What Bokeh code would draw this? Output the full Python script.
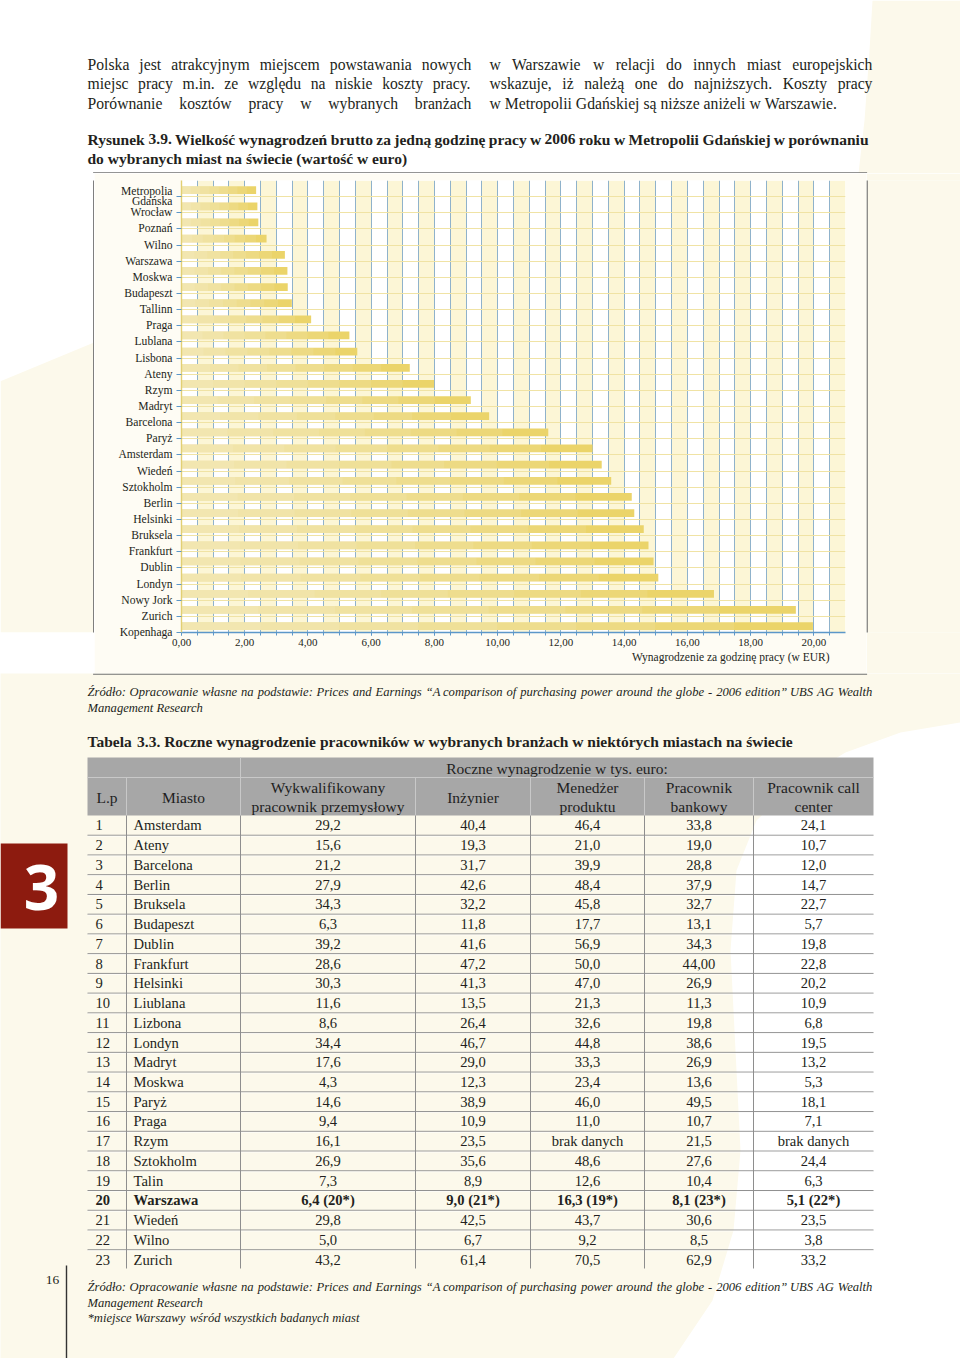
import numpy as np
from bokeh.plotting import figure
from bokeh.layouts import column, row
from bokeh.models import Range1d, FixedTicker, Title
from bokeh.core.properties import value
from bokeh.embed import file_html
from bokeh.resources import INLINE

# ------------------------------------------------------------------ data
cities = ["Metropolia Gdańska", "Wrocław", "Poznań", "Wilno", "Warszawa", "Moskwa",
          "Budapeszt", "Tallinn", "Praga", "Lublana", "Lisbona", "Ateny", "Rzym",
          "Madryt", "Barcelona", "Paryż", "Amsterdam", "Wiedeń", "Sztokholm", "Berlin",
          "Helsinki", "Bruksela", "Frankfurt", "Dublin", "Londyn", "Nowy Jork", "Zurich",
          "Kopenhaga"]
wages = [2.36, 2.40, 2.43, 2.69, 3.27, 3.35, 3.36, 3.49, 4.10, 5.31, 5.56, 7.22, 7.99,
         9.15, 9.73, 11.60, 13.00, 13.29, 13.59, 14.24, 14.32, 14.62, 14.77, 14.93,
         15.08, 16.84, 19.43, 19.97]
x_ticks = [0, 2, 4, 6, 8, 10, 12, 14, 16, 18, 20]
x_tick_labels = ["0,00", "2,00", "4,00", "6,00", "8,00", "10,00", "12,00", "14,00",
                 "16,00", "18,00", "20,00"]
x_title = "Wynagrodzenie za godzinę pracy (w EUR)"

table_lp = ["1", "2", "3", "4", "5", "6", "7", "8", "9", "10", "11", "12", "13", "14",
            "15", "16", "17", "18", "19", "20", "21", "22", "23"]
table_city = ["Amsterdam", "Ateny", "Barcelona", "Berlin", "Bruksela", "Budapeszt",
              "Dublin", "Frankfurt", "Helsinki", "Liublana", "Lizbona", "Londyn",
              "Madryt", "Moskwa", "Paryż", "Praga", "Rzym", "Sztokholm", "Talin",
              "Warszawa", "Wiedeń", "Wilno", "Zurich"]
col_skilled = ["29,2", "15,6", "21,2", "27,9", "34,3", "6,3", "39,2", "28,6", "30,3",
               "11,6", "8,6", "34,4", "17,6", "4,3", "14,6", "9,4", "16,1", "26,9",
               "7,3", "6,4 (20*)", "29,8", "5,0", "43,2"]
col_engineer = ["40,4", "19,3", "31,7", "42,6", "32,2", "11,8", "41,6", "47,2", "41,3",
                "13,5", "26,4", "46,7", "29,0", "12,3", "38,9", "10,9", "23,5", "35,6",
                "8,9", "9,0 (21*)", "42,5", "6,7", "61,4"]
col_manager = ["46,4", "21,0", "39,9", "48,4", "45,8", "17,7", "56,9", "50,0", "47,0",
               "21,3", "32,6", "44,8", "33,3", "23,4", "46,0", "11,0", "brak danych",
               "48,6", "12,6", "16,3 (19*)", "43,7", "9,2", "70,5"]
col_bank = ["33,8", "19,0", "28,8", "37,9", "32,7", "13,1", "34,3", "44,00", "26,9",
            "11,3", "19,8", "38,6", "26,9", "13,6", "49,5", "10,7", "21,5", "27,6",
            "10,4", "8,1 (23*)", "30,6", "8,5", "62,9"]
col_call = ["24,1", "10,7", "12,0", "14,7", "22,7", "5,7", "19,8", "22,8", "20,2",
            "10,9", "6,8", "19,5", "13,2", "5,3", "18,1", "7,1", "brak danych", "24,4",
            "6,3", "5,1 (22*)", "23,5", "3,8", "33,2"]
bold_row = "20"

header_group = "Roczne wynagrodzenie w tys. euro:"
header_cols = [("L.p",), ("Miasto",), ("Wykwalifikowany", "pracownik przemysłowy"),
               ("Inżynier",), ("Menedżer", "produktu"), ("Pracownik", "bankowy"),
               ("Pracownik call", "center")]

para_left = ["Polska jest atrakcyjnym miejscem powstawania nowych",
             "miejsc pracy m.in. ze względu na niskie koszty pracy.",
             "Porównanie kosztów pracy w wybranych branżach"]
para_right = ["w Warszawie w relacji do innych miast europejskich",
              "wskazuje, iż należą one do najniższych. Koszty pracy",
              "w Metropolii Gdańskiej są niższe aniżeli w Warszawie."]
fig_caption = ["Rysunek 3.9. Wielkość wynagrodzeń brutto za jedną godzinę pracy w 2006 roku w Metropolii Gdańskiej w porównaniu",
               "do wybranych miast na świecie (wartość w euro)"]
source_lines = ["Źródło: Opracowanie własne na podstawie: Prices and Earnings “A comparison of purchasing power around the globe - 2006 edition” UBS AG Wealth",
                "Management Research"]
table_caption = "Tabela 3.3. Roczne wynagrodzenie pracowników w wybranych branżach w niektórych miastach na świecie"
footnote = "*miejsce Warszawy wśród wszystkich badanych miast"
page_number = "16"
chapter = "3"

# ------------------------------------------------------------------ style
SERIF = "Liberation Serif"
CREAM = "#FCF9EB"
TXT = "#231F20"
BOX = "#727272"

# Times-compatible advance widths (1/1000 em) used to justify lines
_REG = dict(zip("ABCDEFGHIJKLMNOPQRSTUVWXYZ",
                [722, 667, 667, 722, 611, 556, 722, 722, 333, 389, 722, 611, 889, 722, 722, 556, 722, 667, 556, 611, 722, 722, 944, 722, 722, 611]))
_REG.update(zip("abcdefghijklmnopqrstuvwxyz",
                [444, 500, 444, 500, 444, 333, 500, 500, 278, 278, 500, 278, 778, 500, 500, 500, 500, 333, 389, 278, 500, 500, 722, 500, 500, 444]))
_BOLD = dict(zip("ABCDEFGHIJKLMNOPQRSTUVWXYZ",
                 [722, 667, 722, 722, 667, 611, 778, 778, 389, 500, 778, 667, 944, 722, 778, 611, 778, 722, 556, 667, 722, 722, 1000, 722, 722, 667]))
_BOLD.update(zip("abcdefghijklmnopqrstuvwxyz",
                 [500, 556, 444, 556, 444, 333, 500, 556, 278, 333, 556, 278, 833, 556, 500, 556, 556, 444, 389, 333, 556, 500, 722, 500, 500, 444]))
_ITAL = dict(zip("ABCDEFGHIJKLMNOPQRSTUVWXYZ",
                 [611, 611, 667, 722, 611, 611, 722, 722, 333, 444, 667, 556, 833, 667, 722, 611, 722, 611, 500, 556, 722, 611, 833, 611, 556, 556]))
_ITAL.update(zip("abcdefghijklmnopqrstuvwxyz",
                 [500, 500, 444, 500, 444, 278, 500, 500, 278, 278, 444, 278, 722, 500, 500, 500, 500, 389, 389, 278, 500, 444, 667, 444, 444, 389]))
_COMMON = {" ": 250, ",": 250, ".": 250, "(": 333, ")": 333, ":": 300, ";": 278, "-": 333,
           "*": 500, "“": 450, "”": 450, "\"": 408, "/": 278}
for d in (_REG, _BOLD, _ITAL):
    d.update(_COMMON)
    d.update({c: 500 for c in "0123456789"})
_BASE = {"ą": "a", "ę": "e", "ó": "o", "ś": "s", "ł": "l", "ż": "z", "ź": "z", "ń": "n",
         "ć": "c", "Ż": "Z", "Ź": "Z", "Ś": "S", "Ł": "L"}


def tw(s, size, style):
    t = {"bold": _BOLD, "italic": _ITAL}.get(style, _REG)
    return sum(t.get(_BASE.get(c, c), 500) for c in s) * size / 1000.0


def line_words(line, x0, x1, y, size, style, justify):
    words = line.split(" ")
    ws = [tw(w, size, style) for w in words]
    if justify and len(words) > 1:
        gap = (x1 - x0 - sum(ws)) / (len(words) - 1)
    else:
        gap = tw(" ", size, style)
    out, x = [], x0
    for w, wd in zip(words, ws):
        out.append((x, y, w))
        x += wd + gap
    return out


def add_texts(p, items, size, style="normal", align="left", color=TXT, font=SERIF):
    if not items:
        return
    xs, ys, ts = zip(*items)
    p.text(x=list(xs), y=list(ys), text=list(ts), text_font=value(font),
           text_font_size=value(f"{size}px"), text_font_style=style,
           text_align=align, text_baseline="middle", text_color=color)


def blank(width, height, x0, x1, ytop, ybot, bg):
    p = figure(width=width, height=height, x_range=Range1d(x0, x1),
               y_range=Range1d(ybot, ytop), toolbar_location=None, output_backend="svg",
               min_border=0, x_axis_location=None, y_axis_location=None,
               background_fill_color=bg, border_fill_color=bg, outline_line_color=None)
    p.grid.visible = False
    return p


# ------------------------------------------------------------------ top block
top = blank(960, 173, 0, 960, 0, 173, "white")
top.patch([872, 960, 960, 858, 864, 869], [0, 0, 173, 173, 120, 50],
          color=CREAM, line_color=None)
items = []
for i, ln in enumerate(para_left):
    items += line_words(ln, 87, 471, 64 + i * 19.3, 15.7, "normal", True)
for i, ln in enumerate(para_right):
    items += line_words(ln, 489, 872, 64 + i * 19.3, 15.7, "normal", i < 2)
add_texts(top, items, 15.7)
cap = line_words(fig_caption[0], 87, 868, 138.5, 15.5, "bold", True)
cap += line_words(fig_caption[1], 87, 868, 157.5, 15.5, "bold", False)
add_texts(top, cap, 15.5, "bold")
top.segment(x0=[92.6], y0=[172.4], x1=[866.6], y1=[172.4], line_color=BOX, line_width=1.4)

# ------------------------------------------------------------------ chart row
left = blank(94, 500, 0, 94, 173, 673, "white")
left.patch([0, 94, 94, 0], [395, 352, 673, 673], color=CREAM, line_color=None)
left.segment(x0=[93.3], y0=[172], x1=[93.3], y1=[674], line_color=BOX, line_width=1.4)

right = blank(94, 500, 866, 960, 173, 673, CREAM)
right.segment(x0=[866.6], y0=[172], x1=[866.6], y1=[674], line_color=BOX, line_width=1.4)

n = len(cities)
ch = figure(width=772, height=500, x_range=Range1d(0, 21), y_range=Range1d(0, n),
            toolbar_location=None, output_backend="svg",
            min_border_left=87, min_border_right=21, min_border_top=7, min_border_bottom=41,
            background_fill_color="white", border_fill_color="#FEFCF4",
            outline_line_color=None)

ch.xgrid.ticker = FixedTicker(ticks=[-0.5] + [0.5 * k for k in range(0, 42)])
ch.xgrid.grid_line_color = "#8FB2CB"
ch.xgrid.grid_line_width = 1
ch.xgrid.band_fill_color = "#FCF6D6"
ch.xgrid.band_fill_alpha = 1.0
ch.ygrid.ticker = FixedTicker(ticks=list(range(1, n)))
ch.ygrid.grid_line_color = "#F0E3A4"
ch.ygrid.grid_line_width = 1

ypos = [n - 1 - i + 0.4 for i in range(n)]
ch.hbar(y=ypos, left=0, right=wages, height=0.48, fill_color="#EBD46A", line_color=None)
for f in [0.875, 0.75, 0.625, 0.5, 0.375, 0.25, 0.125]:
    ch.hbar(y=ypos, left=0, right=[w * f for w in wages], height=0.48,
            fill_color="white", fill_alpha=0.09, line_color=None)

xa = ch.xaxis[0]
xa.ticker = FixedTicker(ticks=x_ticks, minor_ticks=[0.5 * k for k in range(0, 42)])
xa.major_label_overrides = {t: l for t, l in zip(x_ticks, x_tick_labels)}
xa.axis_line_color = "#5C97C9"
xa.axis_line_width = 1.6
xa.major_tick_line_color = "#5C97C9"
xa.minor_tick_line_color = "#5C97C9"
xa.major_tick_out = 3
xa.major_tick_in = 0
xa.minor_tick_out = 3
xa.minor_tick_in = 0
xa.major_label_standoff = 3
xa.major_label_text_font = SERIF
xa.major_label_text_font_size = "11px"
xa.major_label_text_color = TXT

ya = ch.yaxis[0]
ya.ticker = FixedTicker(ticks=list(range(n)))
ya.major_label_overrides = {i: cities[n - 1 - i].replace("Metropolia ", "Metropolia\n")
                            for i in range(n)}
ya.axis_line_color = "#E2CF74"
ya.axis_line_width = 1.4
ya.major_tick_line_color = "#5C97C9"
ya.major_tick_out = 5
ya.major_tick_in = 0
ya.minor_tick_line_color = None
ya.major_label_standoff = 4
ya.major_label_text_font = SERIF
ya.major_label_text_font_size = "11.6px"
ya.major_label_text_color = TXT
ya.major_label_text_line_height = 0.75

ch.add_layout(Title(text=x_title, align="right", offset=16, standoff=0,
                    text_font=SERIF, text_font_size="11.5px", text_font_style="normal",
                    text_color=TXT), "below")

mid = row(left, ch, right)

# ------------------------------------------------------------------ bottom block
bot = blank(960, 685, 0, 960, 673, 1358, CREAM)
bot.patch([960, 900, 845, 795, 756, 736, 730, 735, 740, 733, 712, 673, 960],
          [722, 732, 752, 782, 820, 870, 950, 1050, 1150, 1230, 1300, 1358, 1358],
          color="white", line_color=None)
bot.segment(x0=[92.6], y0=[673.6], x1=[866.6], y1=[673.6], line_color=BOX, line_width=1.4)

src = line_words(source_lines[0], 87, 873, 691, 12.6, "italic", True)
src += line_words(source_lines[1], 87, 873, 707, 12.6, "italic", False)
add_texts(bot, src, 12.6, "italic")

add_texts(bot, line_words(table_caption, 87, 873, 741, 15.5, "bold", False), 15.5, "bold")

# table geometry
col_edges = [87, 126, 240, 415, 530, 644, 753, 873]
h_top, h_mid, h_bot = 757, 777, 815
rows_n = len(table_city)
rh = (1269 - h_bot) / rows_n

bot.quad(left=[87], right=[873], top=[h_top], bottom=[h_bot], fill_color="#A7A7A7",
         line_color=None)
bot.segment(x0=[87], y0=[h_mid], x1=[873], y1=[h_mid], line_color="#C8C8C8", line_width=1)
bot.segment(x0=[240], y0=[h_top], x1=[240], y1=[h_mid], line_color="#C8C8C8", line_width=1)
inner = col_edges[1:-1]
bot.segment(x0=inner, y0=[h_mid] * len(inner), x1=inner, y1=[h_bot] * len(inner),
            line_color="#C8C8C8", line_width=1)

ry = [h_bot + k * rh for k in range(1, rows_n)]
bot.segment(x0=[87] * len(ry), y0=ry, x1=[873] * len(ry), y1=ry,
            line_color="#8E8E8E", line_width=1)
bot.segment(x0=[87] * len(ry), y0=[y + 1 for y in ry],
            x1=[873] * len(ry), y1=[y + 1 for y in ry], line_color="#FFFFFF",
            line_width=1, line_alpha=0.6)
bot.segment(x0=inner, y0=[h_bot] * len(inner), x1=inner, y1=[1268] * len(inner),
            line_color="#8E8E8E", line_width=1)

hdr = [(556.5, 767.5, header_group)]
for (a, b), lab in zip(zip(col_edges[:-1], col_edges[1:]), header_cols):
    cx = (a + b) / 2
    if len(lab) == 1:
        hdr.append((cx, 797, lab[0]))
    else:
        hdr.append((cx, 787, lab[0]))
        hdr.append((cx, 806, lab[1]))
add_texts(bot, hdr, 15.5, "normal", "center", "#1E1E1E")

centers = [(a + b) / 2 for a, b in zip(col_edges[2:-1], col_edges[3:])]
reg_l, reg_c, b_l, b_c = [], [], [], []
for k in range(rows_n):
    yc = h_bot + (k + 0.5) * rh
    isb = table_lp[k] == bold_row
    tl = b_l if isb else reg_l
    tc = b_c if isb else reg_c
    tl.append((95, yc, table_lp[k]))
    tl.append((133, yc, table_city[k]))
    for cx, col in zip(centers, [col_skilled, col_engineer, col_manager, col_bank, col_call]):
        tc.append((cx, yc, col[k]))
add_texts(bot, reg_l, 14.6)
add_texts(bot, reg_c, 14.6, "normal", "center")
add_texts(bot, b_l, 14.6, "bold")
add_texts(bot, b_c, 14.6, "bold", "center")

notes = line_words(source_lines[0], 87, 873, 1286, 12.6, "italic", True)
notes += line_words(source_lines[1], 87, 873, 1302, 12.6, "italic", False)
notes += line_words(footnote, 87, 873, 1317, 12.6, "italic", False)
add_texts(bot, notes, 12.6, "italic")

# chapter badge and page number
bot.quad(left=[0], right=[67], top=[843], bottom=[928], fill_color="#8D1B0F", line_color=None)
add_texts(bot, [(41, 887, chapter)], 62, "bold", "center", "white", "Open Sans")
add_texts(bot, [(52, 1279, page_number)], 13.5, "normal", "center")
bot.segment(x0=[66], y0=[1265], x1=[66], y1=[1358], line_color="#333333", line_width=1.4)

layout = column(top, mid, bot)
open("out.html", "w").write(file_html(layout, INLINE))
